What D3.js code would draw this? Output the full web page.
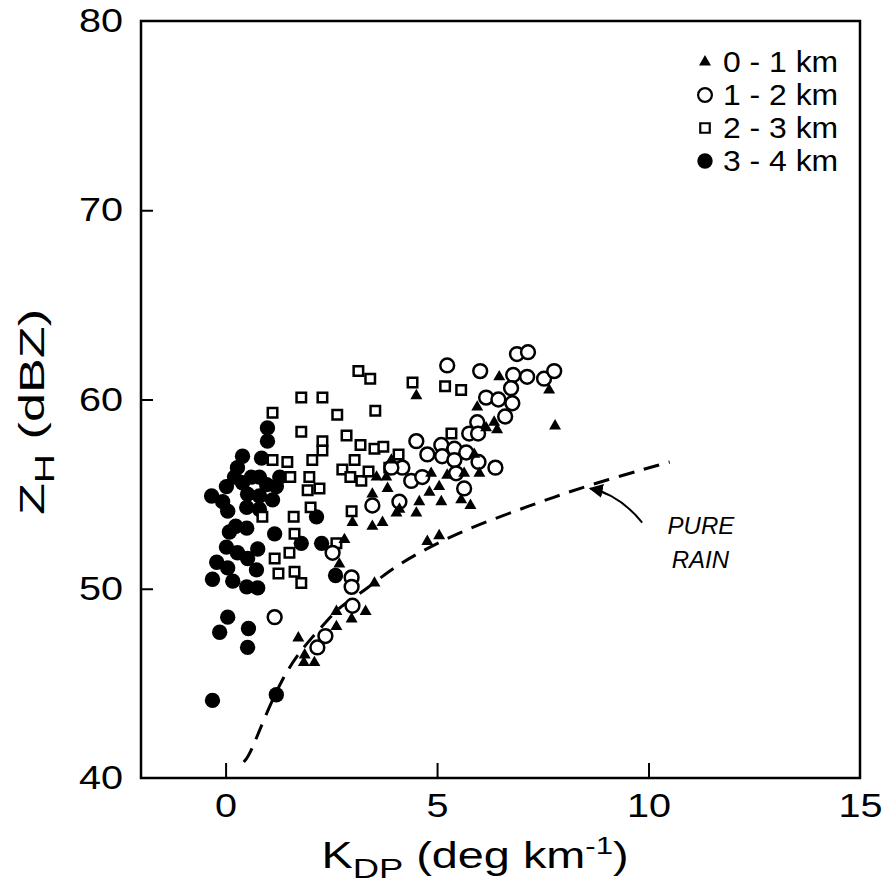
<!DOCTYPE html>
<html>
<head>
<meta charset="utf-8">
<script src="https://cdn.jsdelivr.net/npm/d3@7"></script>
<style>
  body { margin: 0; background: #fff; }
  svg { font-family: "Liberation Sans", Arial, Helvetica, sans-serif; }
</style>
</head>
<body>
<div id="chart"></div>
<script>
// K_DP (deg/km), Z_H (dBZ), one list per height band
const h01 = [ // 0 - 1 km, filled triangles
  [4.51,60.2],[5.95,59.6],[3.92,56.8],[3.57,55.9],[3.80,55.9],[3.83,55.3],[5.24,56.0],[4.86,56.1],
  [5.64,56.1],[5.05,55.4],[4.82,55.1],[4.58,54.6],[5.10,54.6],[5.57,54.7],[5.79,54.4],[3.47,55.0],
  [4.11,54.2],[4.51,54.0],[4.04,54.0],[3.71,53.5],[3.47,53.3],[3.00,53.5],[2.81,52.6],[4.77,52.5],
  [5.05,52.8],[6.47,61.2],[7.65,60.5],[7.79,58.6],[6.35,58.8],[6.42,58.4],[6.16,58.5],[5.88,57.1],
  [6.00,56.1],[2.69,51.3],[3.52,50.3],[2.62,48.8],[2.98,48.4],[3.31,48.8],[2.62,48.0],[1.72,47.4],
  [1.87,46.5],[1.85,46.1],[2.10,46.1]
];
const h12 = [ // 1 - 2 km, open circles
  [5.24,61.8],[6.02,61.5],[4.51,57.8],[4.77,57.1],[5.10,57.6],[5.41,57.4],[5.76,58.2],[5.95,58.8],
  [5.69,57.2],[5.12,57.0],[5.41,56.8],[4.18,56.4],[4.39,55.7],[4.65,55.9],[3.92,56.4],[3.47,54.4],
  [4.11,54.6],[5.45,56.1],[5.64,55.3],[5.98,56.7],[6.89,62.4],[7.15,62.5],[6.80,61.3],[7.13,61.2],
  [7.53,61.1],[7.77,61.5],[6.75,60.6],[6.16,60.1],[6.45,60.0],[6.78,59.8],[6.61,59.1],[5.97,58.2],
  [6.38,56.4],[2.98,50.6],[2.98,50.1],[3.00,49.1],[2.36,47.5],[2.17,46.9],[1.16,48.5],[2.53,51.9]
];
const h23 = [ // 2 - 3 km, open squares
  [1.79,60.1],[2.29,60.1],[1.11,59.3],[2.64,59.2],[1.79,58.3],[2.29,57.8],[2.29,57.3],[2.05,56.8],
  [1.11,56.8],[1.46,56.7],[1.53,55.9],[1.98,55.9],[1.94,55.2],[2.22,55.3],[2.01,54.3],[0.87,53.8],
  [1.61,53.8],[1.63,52.9],[2.62,52.4],[1.16,51.6],[1.51,51.9],[1.25,50.8],[1.63,50.9],[1.79,50.3],
  [3.14,61.5],[3.42,61.1],[4.42,60.9],[5.19,60.7],[5.57,60.5],[3.54,59.4],[2.86,58.1],[3.19,57.6],
  [3.52,57.4],[3.73,57.5],[4.09,57.1],[3.05,56.8],[2.76,56.3],[2.95,55.9],[3.21,55.7],[3.38,56.2],
  [3.87,56.4],[5.34,58.2],[2.98,54.1]
];
const h34 = [ // 3 - 4 km, filled circles
  [0.99,58.5],[0.99,57.8],[0.40,57.0],[0.85,56.9],[0.28,56.4],[0.21,55.9],[0.61,55.9],[0.80,55.9],
  [1.28,55.9],[0.40,55.6],[0.97,55.5],[0.02,55.4],[1.20,55.4],[-0.33,54.9],[0.52,55.0],[0.80,54.9],
  [-0.07,54.6],[1.11,54.7],[0.05,54.1],[0.50,54.3],[0.80,54.2],[2.15,53.8],[0.24,53.3],[0.50,53.2],
  [0.09,53.0],[1.16,52.9],[1.79,52.4],[2.27,52.4],[0.02,52.2],[0.28,51.9],[0.76,52.1],[0.52,51.6],
  [-0.21,51.4],[0.05,51.1],[0.73,51.0],[-0.31,50.5],[0.17,50.4],[0.50,50.1],[0.76,50.05],[2.60,50.7],
  [0.05,48.5],[-0.14,47.7],[0.54,47.9],[0.52,46.9],[-0.31,44.1],[1.20,44.4]
];
// pure rain relation
const pureRain = [
  [0.43,40.85],[0.57,41.2],[0.92,43.2],[1.35,45.3],[1.70,46.5],[2.03,47.4],[2.38,48.25],[2.69,49.05],
  [3.33,49.95],[4.04,51.3],[5.5,53.0],[7.2,54.4],[8.6,55.5],[10.5,56.7]
];
const xTicks = [0, 5, 10, 15];
const yTicks = [40, 50, 60, 70, 80];
const legendLabels = ["0 - 1 km", "1 - 2 km", "2 - 3 km", "3 - 4 km"];

const W = 882, H = 888;
const margin = {top: 21, right: 22, bottom: 110, left: 141};
const wide = 1.2; // the scanned lettering is wider than Liberation Sans

const svg = d3.select("#chart").append("svg")
    .attr("width", W).attr("height", H);

const x = d3.scaleLinear().domain([-2, 15]).range([margin.left, W - margin.right]);
const y = d3.scaleLinear().domain([40, 80]).range([H - margin.bottom, margin.top]);

// axes with inward ticks
const xAxis = svg.append("g")
    .attr("transform", "translate(0," + (H - margin.bottom) + ")")
    .call(d3.axisBottom(x).tickValues(xTicks).tickSizeInner(-15).tickSizeOuter(0).tickPadding(16));
const yAxis = svg.append("g")
    .attr("transform", "translate(" + margin.left + ",0)")
    .call(d3.axisLeft(y).tickValues(yTicks).tickSizeInner(-12).tickSizeOuter(0).tickPadding(18));

[xAxis, yAxis].forEach(g => {
  g.select(".domain").remove();
  g.selectAll("line").attr("stroke", "#000").attr("stroke-width", 2);
  g.selectAll("text").attr("fill", "#000").style("font-size", "33px").style("font-family", "inherit");
});
xAxis.selectAll("text").attr("transform", "scale(" + wide + ",1)");
yAxis.selectAll("text").attr("x", -18 / wide).attr("transform", "scale(" + wide + ",1)");
xAxis.selectAll(".tick").filter(d => d === 15).select("line").remove();
yAxis.selectAll(".tick").filter(d => d === 40 || d === 80).select("line").remove();

// frame
svg.append("rect")
    .attr("x", x(-2)).attr("y", y(80))
    .attr("width", x(15) - x(-2)).attr("height", y(40) - y(80))
    .attr("fill", "none").attr("stroke", "#000").attr("stroke-width", 2.5);

// pure rain curve
const line = d3.line().x(d => x(d[0])).y(d => y(d[1])).curve(d3.curveBasis);
svg.append("path")
    .datum(pureRain)
    .attr("d", line)
    .attr("fill", "none").attr("stroke", "#000").attr("stroke-width", 3)
    .attr("stroke-dasharray", "16,10");

// markers
const sym = {
  tri: d3.symbol().type(d3.symbolTriangle).size(62),
  circ: d3.symbol().type(d3.symbolCircle).size(150),
  sq: d3.symbol().type(d3.symbolSquare).size(90),
  dot: d3.symbol().type(d3.symbolCircle).size(185)
};
const groups = [
  {data: h34, s: sym.dot, fill: "#000", stroke: "none"},
  {data: h23, s: sym.sq, fill: "#fff", stroke: "#000"},
  {data: h12, s: sym.circ, fill: "#fff", stroke: "#000"},
  {data: h01, s: sym.tri, fill: "#000", stroke: "none"}
];
groups.forEach(gp => {
  svg.append("g").selectAll("path")
    .data(gp.data)
    .enter().append("path")
    .attr("transform", d => "translate(" + x(d[0]) + "," + y(d[1]) + ")")
    .attr("d", gp.s())
    .attr("fill", gp.fill)
    .attr("stroke", gp.stroke)
    .attr("stroke-width", 2.5);
});

// legend
const legendSyms = [
  {s: sym.tri, fill: "#000", stroke: "none"},
  {s: sym.circ, fill: "#fff", stroke: "#000"},
  {s: sym.sq, fill: "#fff", stroke: "#000"},
  {s: sym.dot, fill: "#000", stroke: "none"}
];
const legend = svg.append("g").attr("transform", "translate(705,62)");
legendLabels.forEach((lab, i) => {
  const row = legend.append("g").attr("transform", "translate(0," + (i * 33) + ")");
  row.append("path").attr("d", legendSyms[i].s())
    .attr("fill", legendSyms[i].fill).attr("stroke", legendSyms[i].stroke).attr("stroke-width", 2.2);
  row.append("text").attr("x", 18 / 1.1).attr("y", 10)
    .attr("transform", "scale(1.1,1)")
    .style("font-size", "29px").text(lab);
});

// PURE RAIN note
svg.append("text").attr("x", x(10.45)).attr("y", y(52.9))
    .style("font-size", "24px").style("font-style", "italic").text("PURE");
svg.append("text").attr("x", x(10.55)).attr("y", y(51.1))
    .style("font-size", "24px").style("font-style", "italic").text("RAIN");

svg.append("defs").append("marker")
    .attr("id", "arr").attr("viewBox", "0 0 10 10").attr("refX", 9).attr("refY", 5)
    .attr("markerWidth", 7).attr("markerHeight", 7).attr("orient", "auto")
  .append("path").attr("d", "M0,0L10,5L0,10z").attr("fill", "#000");
const a0 = [x(9.85), y(53.5)], a1 = [x(8.62), y(55.3)];
svg.append("path")
    .attr("d", "M" + a0 + "Q" + [x(9.3), y(55.0)] + " " + a1)
    .attr("fill", "none").attr("stroke", "#000").attr("stroke-width", 2)
    .attr("marker-end", "url(#arr)");

// axis titles
const xt = svg.append("text")
    .attr("transform", "translate(475,868) scale(1.3,1)")
    .attr("text-anchor", "middle").style("font-size", "36px");
xt.append("tspan").text("K");
xt.append("tspan").attr("dy", 10).style("font-size", "28px").text("DP");
xt.append("tspan").attr("dy", -10).text(" (deg km");
xt.append("tspan").attr("dy", -14).style("font-size", "24px").text("-1");
xt.append("tspan").attr("dy", 14).text(")");

const yt = svg.append("text")
    .attr("transform", "translate(44,412) rotate(-90) scale(1.45,1)")
    .attr("text-anchor", "middle").style("font-size", "36px");
yt.append("tspan").text("Z");
yt.append("tspan").attr("dy", 10).style("font-size", "28px").text("H");
yt.append("tspan").attr("dy", -10).text(" (dBZ)");
</script>
</body>
</html>
